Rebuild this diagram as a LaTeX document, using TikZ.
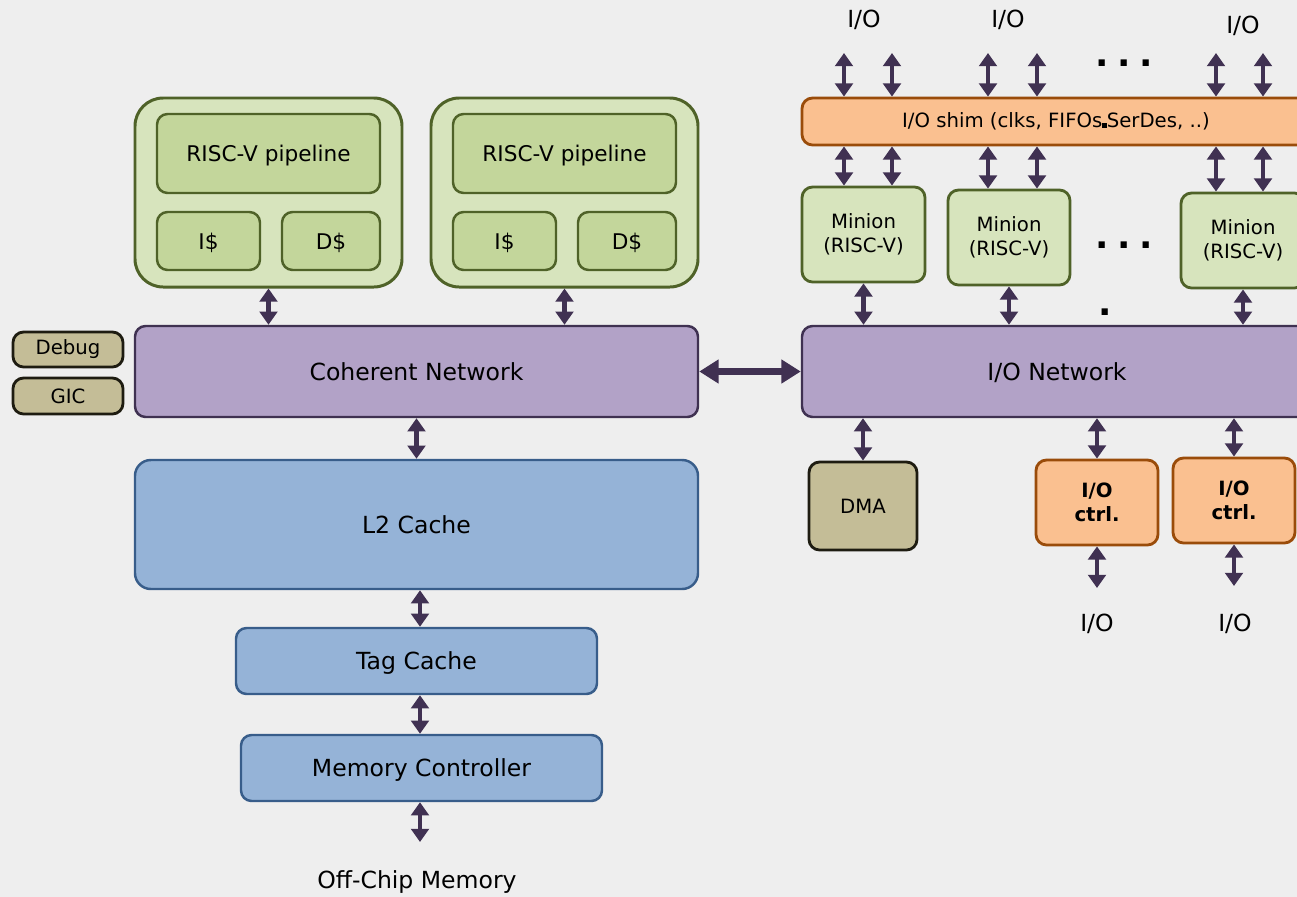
\documentclass[tikz,border=0pt]{standalone}
\usepackage{fontspec}
\setmainfont{DejaVu Sans}
\usetikzlibrary{arrows.meta}
\definecolor{bgc}{HTML}{EEEEEE}
\definecolor{corefill}{HTML}{D7E4BD}
\definecolor{unitfill}{HTML}{C3D69B}
\definecolor{coreline}{HTML}{4F6228}
\definecolor{netfill}{HTML}{B2A2C7}
\definecolor{netline}{HTML}{3F3151}
\definecolor{memfill}{HTML}{95B3D7}
\definecolor{memline}{HTML}{385D8A}
\definecolor{tanfill}{HTML}{C4BD97}
\definecolor{tanline}{HTML}{1E1C11}
\definecolor{iofill}{HTML}{FAC090}
\definecolor{ioline}{HTML}{9A4C0A}
\definecolor{busc}{HTML}{403152}
\begin{document}
\begin{tikzpicture}[x=0.2mm, y=-0.2mm,
    dims/.style 2 args={minimum width=#1*0.2mm, minimum height=#2*0.2mm},
    blk/.style={rectangle, rounded corners=6pt, line width=1.4pt, inner sep=0pt, align=center},
    core/.style={blk, rounded corners=16pt, draw=coreline, fill=corefill, line width=1.7pt},
    unit/.style={blk, draw=coreline, fill=unitfill, text depth=0pt, font=\fontsize{12.3}{15}\selectfont},
    net/.style={blk, draw=netline, fill=netfill, text depth=0pt, big},
    mem/.style={blk, draw=memline, fill=memfill, text depth=0pt, big},
    tan/.style={blk, draw=tanline, fill=tanfill, line width=1.6pt, small},
    io/.style={blk, draw=ioline, fill=iofill, line width=1.6pt, small},
    minion/.style={blk, draw=coreline, fill=corefill, line width=1.6pt, small},
    bus/.style={draw=busc, line width=2.8pt, {Triangle[width=10pt,length=7.5pt]}-{Triangle[width=10pt,length=7.5pt]}},
    widebus/.style={draw=busc, line width=3.6pt, {Triangle[width=13pt,length=11pt]}-{Triangle[width=13pt,length=11pt]}},
    big/.style={font=\fontsize{13.4}{16}\selectfont},
    small/.style={font=\fontsize{11.2}{13.5}\selectfont},
    dots/.style={font=\fontsize{20}{20}\bfseries\selectfont},
  ]
  \useasboundingbox (0,0) rectangle (1297,897);
  \fill[bgc] (0,0) rectangle (1297,897);
  \clip (0,0) rectangle (1297,897);

  % Application cores
  \node[core, dims={267}{189}] (core1) at (268.5,192.5) {};
  \node[unit, dims={223}{79}] (pipe1) at (268.5,153.5) {RISC-V pipeline};
  \node[unit, dims={103}{58}] (ic1) at (208.5,241) {I\$};
  \node[unit, dims={98}{58}] (dc1) at (331,241) {D\$};
  \node[core, dims={267}{189}] (core2) at (564.5,192.5) {};
  \node[unit, dims={223}{79}] (pipe2) at (564.5,153.5) {RISC-V pipeline};
  \node[unit, dims={103}{58}] (ic2) at (504.5,241) {I\$};
  \node[unit, dims={98}{58}] (dc2) at (627,241) {D\$};

  % Coherent side
  \node[net, dims={563}{91}] (coh) at (416.5,371.5) {Coherent Network};
  \node[tan, dims={110}{35}] (debug) at (68,349.5) {Debug};
  \node[tan, dims={110}{36}] (gic) at (68,396) {GIC};
  \node[mem, rounded corners=9pt, dims={563}{129}] (l2) at (416.5,524.5) {L2 Cache};
  \node[mem, dims={361}{66}] (tag) at (416.5,661) {Tag Cache};
  \node[mem, dims={361}{66}] (memc) at (421.5,768) {Memory Controller};
  \node[big] (offchip) at (417,882) {Off-Chip Memory};
  \coordinate (memend) at (420,842);

  \draw[bus] (core1.south) -- (core1.south |- coh.north);
  \draw[bus] (core2.south) -- (core2.south |- coh.north);
  \draw[bus] (coh.south) -- (coh.south |- l2.north);
  \draw[bus] (memend |- l2.south) -- (memend |- tag.north);
  \draw[bus] (memend |- tag.south) -- (memend |- memc.north);
  \draw[bus] (memend |- memc.south) -- (memend);

  % I/O side
  \node[net, dims={510}{91}] (ionet) at (1057,371.5) {I/O Network};
  \node[io, dims={508}{47}] (shim) at (1056,121.5) {I/O shim (clks, FIFOs\rule{2.6pt}{2.6pt}SerDes, ..)};
  \node[minion, dims={123}{95}] (m1) at (863.5,234.5) {Minion\\(RISC-V)};
  \node[minion, dims={122}{95}] (m2) at (1009,237.5) {Minion\\(RISC-V)};
  \node[minion, dims={124}{95}] (m3) at (1243,240.5) {Minion\\(RISC-V)};
  \node[tan, dims={108}{88}] (dma) at (863,506) {DMA};
  \node[io, dims={122}{85}, font=\fontsize{11.2}{13.5}\bfseries\selectfont] (ioc1) at (1097,502.5) {I/O\\ctrl.};
  \node[io, dims={122}{85}, font=\fontsize{11.2}{13.5}\bfseries\selectfont] (ioc2) at (1234,500.5) {I/O\\ctrl.};

  \node[big] (iot1) at (864,20) {I/O};
  \node[big] (iot2) at (1008,20) {I/O};
  \node[big] (iot3) at (1243,26) {I/O};
  \node[big] (iob1) at (1097,624) {I/O};
  \node[big] (iob2) at (1235,624) {I/O};
  \node[dots] (dtop) at (1124,63) {.\hspace{5pt}.\hspace{5pt}.};
  \node[dots] (dmid) at (1124,245) {.\hspace{5pt}.\hspace{5pt}.};
  \node[dots] (dlow) at (1105,312) {.};

  % pins above the shim
  \coordinate (p1) at (844,53);
  \coordinate (p2) at (892,53);
  \coordinate (p3) at (988,53);
  \coordinate (p4) at (1037,53);
  \coordinate (p5) at (1216,53);
  \coordinate (p6) at (1263,53);
  \draw[bus] (p1) -- (p1 |- shim.north);
  \draw[bus] (p2) -- (p2 |- shim.north);
  \draw[bus] (p3) -- (p3 |- shim.north);
  \draw[bus] (p4) -- (p4 |- shim.north);
  \draw[bus] (p5) -- (p5 |- shim.north);
  \draw[bus] (p6) -- (p6 |- shim.north);
  \draw[bus] (p1 |- shim.south) -- (p1 |- m1.north);
  \draw[bus] (p2 |- shim.south) -- (p2 |- m1.north);
  \draw[bus] (p3 |- shim.south) -- (p3 |- m2.north);
  \draw[bus] (p4 |- shim.south) -- (p4 |- m2.north);
  \draw[bus] (p5 |- shim.south) -- (p5 |- m3.north);
  \draw[bus] (p6 |- shim.south) -- (p6 |- m3.north);

  \draw[bus] (m1.south) -- (m1.south |- ionet.north);
  \draw[bus] (m2.south) -- (m2.south |- ionet.north);
  \draw[bus] (m3.south) -- (m3.south |- ionet.north);
  \draw[bus] (dma.north) -- (dma.north |- ionet.south);
  \draw[bus] (ioc1.north) -- (ioc1.north |- ionet.south);
  \draw[bus] (ioc2.north) -- (ioc2.north |- ionet.south);
  \coordinate (e1) at (1097,588);
  \coordinate (e2) at (1234,586);
  \draw[bus] (ioc1.south) -- (e1);
  \draw[bus] (ioc2.south) -- (e2);

  % link between the two networks
  \draw[widebus] (coh.east) -- (ionet.west);
\end{tikzpicture}
\end{document}
